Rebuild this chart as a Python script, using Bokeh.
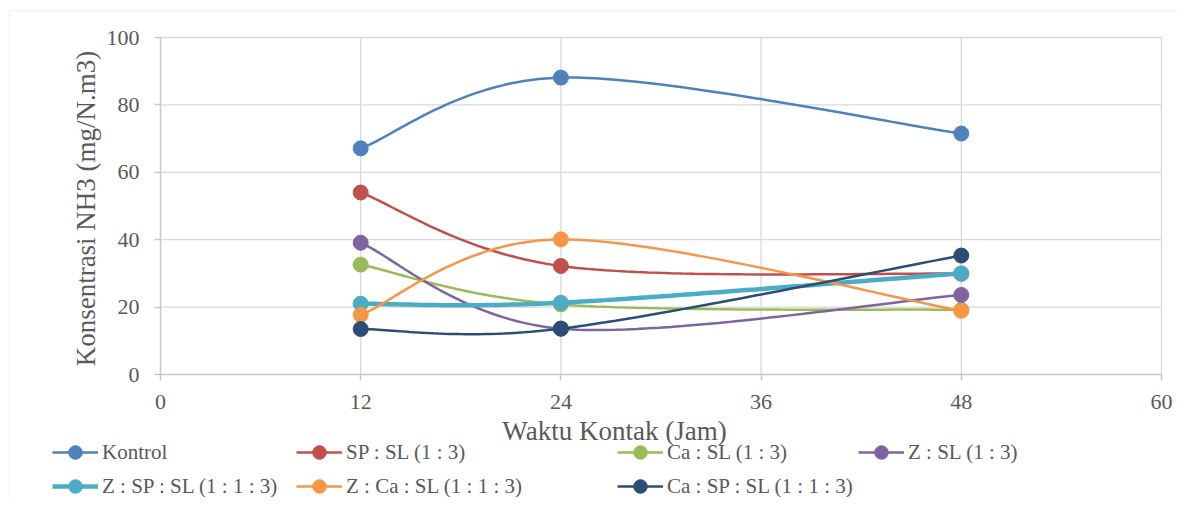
import numpy as np
from bokeh.plotting import figure
from bokeh.models import (FixedTicker, Range1d, Legend, LegendItem, Label, LinearAxis,
                          BoxAnnotation)
from bokeh.embed import file_html
from bokeh.resources import INLINE

# ---- data ----
hours = [12, 24, 48]
kontrol = [67.1, 88.1, 71.5]
sp_sl = [54.0, 32.2, 29.9]
ca_sl = [32.6, 20.8, 19.2]
z_sl = [39.1, 13.6, 23.6]
z_sp_sl = [21.0, 21.3, 30.0]
z_ca_sl = [17.7, 40.1, 18.9]
ca_sp_sl = [13.5, 13.6, 35.3]

series_names = ["Kontrol", "SP : SL (1 : 3)", "Ca : SL (1 : 3)", "Z : SL (1 : 3)",
                "Z : SP : SL (1 : 1 : 3)", "Z : Ca : SL (1 : 1 : 3)", "Ca : SP : SL (1 : 1 : 3)"]
series_values = [kontrol, sp_sl, ca_sl, z_sl, z_sp_sl, z_ca_sl, ca_sp_sl]
colors = ["#4F81BD", "#C0504D", "#9BBB59", "#8064A2", "#4BACC6", "#F79646", "#2C4D75"]
widths = [2.5, 2.5, 2.5, 2.5, 4.5, 2.5, 2.5]

x_ticks = [0, 12, 24, 36, 48, 60]
y_ticks = [0, 20, 40, 60, 80, 100]
x_title = "Waktu Kontak (Jam)"
y_title = "Konsentrasi NH3 (mg/N.m3)"

FONT = "Liberation Serif"
TXT = "#595959"

# ---- layout constants (pixels) ----
W, H = 1178, 497
PX_LEFT, PX_RIGHT = 160, 1161     # x = 0 and x = 60
PX_TOP, PX_BOTTOM = 37, 374       # y = 100 and y = 0
X0, X1 = x_ticks[0], x_ticks[-1]
Y0, Y1 = y_ticks[0], y_ticks[-1]
kx = (PX_RIGHT - PX_LEFT) / (X1 - X0)
ky = (PX_BOTTOM - PX_TOP) / (Y1 - Y0)


def px_x(sx):
    return X0 + (sx - PX_LEFT) / kx


def px_y(sy):
    return Y0 + (PX_BOTTOM - sy) / ky


def smooth(xs, ys, n=40):
    """Excel-like smoothed line: cubic Bezier through the points (Catmull-Rom, 1/6)."""
    pts = np.column_stack([np.asarray(xs, float), np.asarray(ys, float)])
    out = []
    t = np.linspace(0, 1, n)[:, None]
    for i in range(len(pts) - 1):
        p0 = pts[i - 1] if i > 0 else pts[i]
        p1 = pts[i]
        p2 = pts[i + 1]
        p3 = pts[i + 2] if i + 2 < len(pts) else pts[i + 1]
        c1 = p1 + (p2 - p0) / 6.0
        c2 = p2 - (p3 - p1) / 6.0
        seg = (1 - t) ** 3 * p1 + 3 * (1 - t) ** 2 * t * c1 + 3 * (1 - t) * t ** 2 * c2 + t ** 3 * p2
        out.append(seg if i == 0 else seg[1:])
    arr = np.vstack(out)
    return arr[:, 0], arr[:, 1]


p = figure(width=W, height=H, output_backend="svg", toolbar_location=None,
           x_range=Range1d(px_x(0), px_x(W)), y_range=Range1d(px_y(H), px_y(0)),
           x_axis_location=None, y_axis_location=None,
           min_border_left=0, min_border_right=0, min_border_top=0, min_border_bottom=0)
p.outline_line_color = None
p.grid.visible = False
p.background_fill_color = "white"
p.border_fill_color = "white"

# chart-area border (left and top edges visible, as in the original crop)
p.add_layout(BoxAnnotation(left=px_x(9), right=px_x(W + 10), top=px_y(10), bottom=px_y(H + 10),
                           fill_alpha=0, line_color="#d9d9d9", line_width=1.5))

# gridlines (from the tick lists, bounded to the plot area)
GRID = "#d9d9d9"
p.segment(x0=x_ticks[1:], y0=[Y0] * (len(x_ticks) - 1), x1=x_ticks[1:], y1=[Y1] * (len(x_ticks) - 1),
          line_color=GRID, line_width=1.3)
p.segment(x0=[X0] * (len(y_ticks) - 1), y0=y_ticks[1:], x1=[X1] * (len(y_ticks) - 1), y1=y_ticks[1:],
          line_color=GRID, line_width=1.3)

xaxis = LinearAxis(fixed_location=Y0, bounds=(X0, X1), ticker=FixedTicker(ticks=x_ticks))
yaxis = LinearAxis(fixed_location=X0, bounds=(Y0, Y1), ticker=FixedTicker(ticks=y_ticks))
for ax in (xaxis, yaxis):
    ax.axis_line_color = "#c8c8c8"
    ax.axis_line_width = 1.5
    ax.major_tick_line_color = "#c8c8c8"
    ax.major_tick_line_width = 1.5
    ax.major_tick_out = 6
    ax.major_tick_in = 0
    ax.minor_tick_line_color = None
    ax.major_label_text_font = FONT
    ax.major_label_text_font_size = "22px"
    ax.major_label_text_color = TXT
xaxis.major_label_standoff = 14
yaxis.major_label_standoff = 15
p.add_layout(xaxis, "below")
p.add_layout(yaxis, "left")

# axis titles
p.add_layout(Label(x=px_x(614), y=px_y(430), text=x_title, text_font=FONT,
                   text_font_size="27px", text_color=TXT, text_align="center",
                   text_baseline="alphabetic"))
p.add_layout(Label(x=px_x(85), y=px_y(208), text=y_title, angle=np.pi / 2,
                   text_font=FONT, text_font_size="27px", text_color=TXT,
                   text_align="center", text_baseline="middle"))

renderers = []
for name, vals, col, lw in zip(series_names, series_values, colors, widths):
    sx, sy = smooth(hours, vals)
    lr = p.line(sx, sy, line_color=col, line_width=lw)
    sr = p.scatter(hours, vals, marker="circle", size=15, fill_color=col, line_color=col)
    renderers.append([lr, sr])

items = [LegendItem(label=n, renderers=r) for n, r in zip(series_names, renderers)]
columns = [[0, 4], [1, 5], [2, 6], [3]]
col_x = [52, 296, 617, 858]
ROW_H, GAP = 34, 0
LEG_TOP = 435
for idxs, vx in zip(columns, col_x):
    h = ROW_H * len(idxs) + GAP * (len(idxs) - 1)
    vy = H - (LEG_TOP + h)
    leg = Legend(items=[items[i] for i in idxs], location=(vx, vy), orientation="vertical",
                 padding=0, margin=0, border_line_color=None, background_fill_alpha=0,
                 glyph_width=46, glyph_height=ROW_H, label_height=ROW_H, label_standoff=4,
                 spacing=GAP, label_text_font=FONT, label_text_font_size="21px",
                 label_text_color=TXT)
    p.add_layout(leg)

open("out.html", "w").write(file_html(p, INLINE))
